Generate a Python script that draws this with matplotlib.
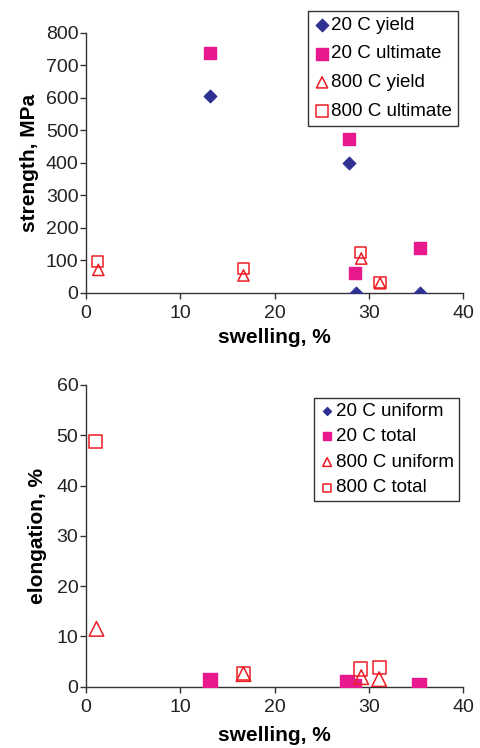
import matplotlib
matplotlib.use('Agg')
import matplotlib.pyplot as plt

plt.rcParams['font.family'] = ['Liberation Sans', 'DejaVu Sans']

# Верхний график: прочность
yield20_x = [13.2, 27.9, 28.6, 35.4]
yield20_y = [607, 401, 0, 0]
ult20_x = [13.2, 27.9, 28.5, 35.4]
ult20_y = [738, 474, 60, 139]
yield800_x = [1.3, 16.7, 29.2, 31.2]
yield800_y = [71, 54, 106, 30]
ult800_x = [1.2, 16.7, 29.1, 31.2]
ult800_y = [96, 75, 125, 32]

# Нижний график: удлинение
unif20_x = [13.1, 27.7, 28.4, 35.3]
unif20_y = [1.0, 0.5, 0.0, 0.0]
tot20_x = [13.1, 27.7, 28.4, 35.3]
tot20_y = [1.3, 0.9, 0.1, 0.3]
unif800_x = [1.1, 16.7, 29.2, 31.1]
unif800_y = [11.5, 2.5, 1.9, 1.5]
tot800_x = [1.0, 16.7, 29.1, 31.1]
tot800_y = [48.7, 2.7, 3.5, 3.8]

navy = '#2E3192'
magenta = '#E8198C'
red = '#ED1C24'

fig = plt.figure(figsize=(4.81, 7.48), dpi=100)
ax1 = fig.add_axes([0.179, 0.6083, 0.7836, 0.3476])
ax2 = fig.add_axes([0.179, 0.082, 0.7836, 0.4033])


def style(ax):
    for s in ['top', 'right']:
        ax.spines[s].set_visible(False)
    for s in ['left', 'bottom']:
        ax.spines[s].set_color('#333333')
        ax.spines[s].set_linewidth(1.0)
    ax.tick_params(direction='out', length=4, width=1, color='#333333',
                   labelsize=14, labelcolor='#222222')
    ax.tick_params(axis='y', pad=1.5)
    ax.tick_params(axis='x', pad=5)
    ax.set_xlim(0, 40)
    ax.set_xticks([0, 10, 20, 30, 40])
    ax.set_xlabel('swelling, %', fontsize=15, fontweight='bold', labelpad=7)


ax1.scatter(yield20_x, yield20_y, marker='D', s=40, color=navy, label='20 C yield', zorder=3)
ax1.scatter(ult20_x, ult20_y, marker='s', s=70, color=magenta, label='20 C ultimate', zorder=3)
ax1.scatter(yield800_x, yield800_y, marker='^', s=65, facecolors='none', edgecolors=red,
            linewidths=1.1, label='800 C yield', zorder=3)
ax1.scatter(ult800_x, ult800_y, marker='s', s=65, facecolors='none', edgecolors=red,
            linewidths=1.1, label='800 C ultimate', zorder=3)
ax1.set_ylim(0, 800)
ax1.set_yticks(range(0, 801, 100))
ax1.set_ylabel('strength, MPa', fontsize=15, fontweight='bold', labelpad=5)
style(ax1)
ax1.xaxis.labelpad = 4
leg1 = ax1.legend(loc='upper left', bbox_to_anchor=(308 / 481, 1 - 11 / 748),
                  bbox_transform=fig.transFigure, fontsize=13.5, frameon=True, fancybox=False,
                  edgecolor='black', handletextpad=0.05, borderpad=0.3, labelspacing=0.62,
                  handlelength=0.9, borderaxespad=0)
leg1.get_frame().set_linewidth(1.0)

ax2.scatter(unif20_x, unif20_y, marker='D', s=45, color=navy, label='20 C uniform', zorder=2)
ax2.scatter(tot20_x, tot20_y, marker='s', s=88, color=magenta, label='20 C total', zorder=3)
ax2.scatter(unif800_x, unif800_y, marker='^', s=110, facecolors='none', edgecolors=red,
            linewidths=1.1, label='800 C uniform', zorder=3)
ax2.scatter(tot800_x, tot800_y, marker='s', s=90, facecolors='none', edgecolors=red,
            linewidths=1.1, label='800 C total', zorder=3)
ax2.set_ylim(0, 60)
ax2.set_yticks(range(0, 61, 10))
ax2.set_ylabel('elongation, %', fontsize=15, fontweight='bold', labelpad=7)
style(ax2)
leg2 = ax2.legend(loc='upper left', bbox_to_anchor=(314 / 481, 1 - 398 / 748),
                  bbox_transform=fig.transFigure, fontsize=13.5, frameon=True, fancybox=False,
                  edgecolor='black', handletextpad=0.05, borderpad=0.25, labelspacing=0.45,
                  handlelength=0.9, borderaxespad=0, markerscale=0.6)
leg2.get_frame().set_linewidth(1.0)

fig.savefig('out.png', dpi=100)
